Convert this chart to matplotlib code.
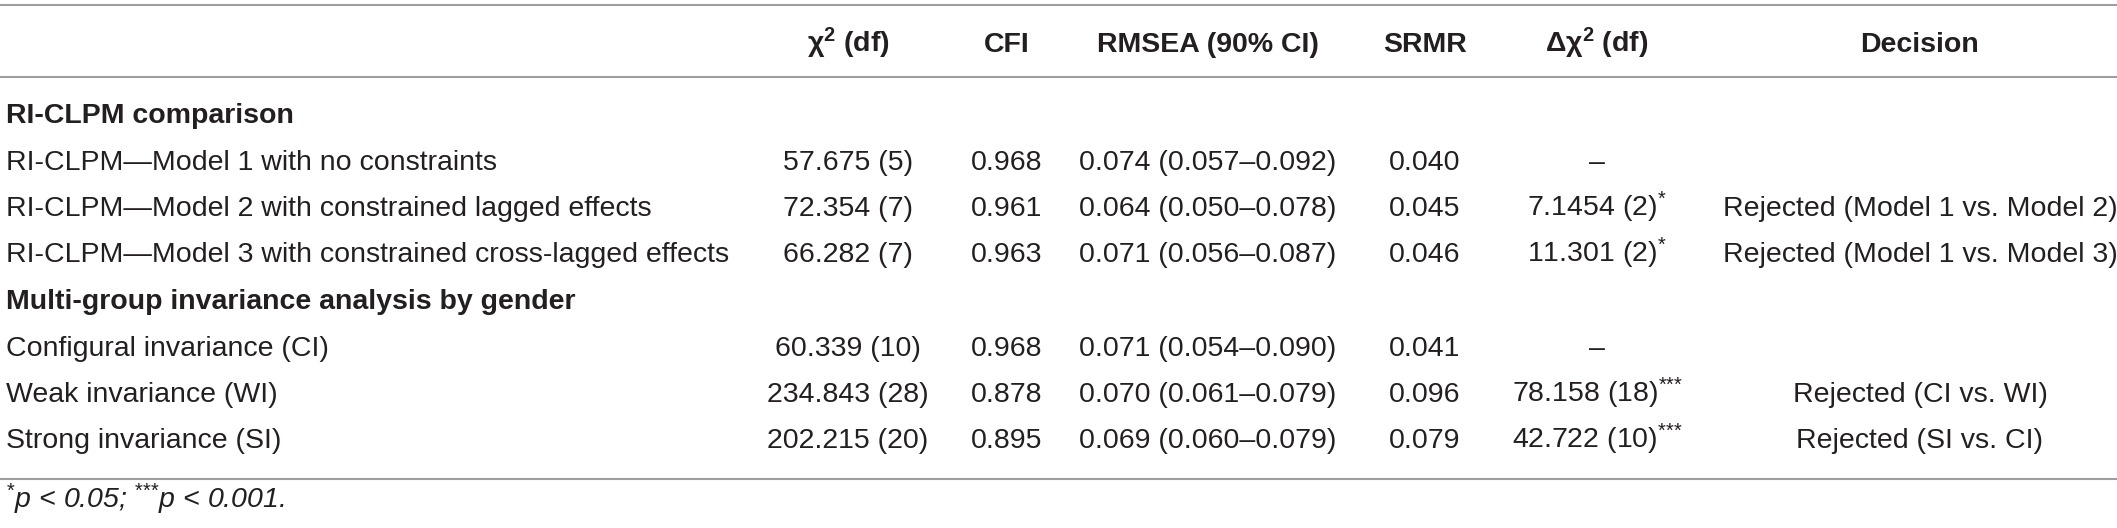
import matplotlib
matplotlib.use("Agg")
import matplotlib.pyplot as plt

plt.rcParams["font.family"] = ["Liberation Sans", "DejaVu Sans"]
plt.rcParams["mathtext.fontset"] = "custom"
plt.rcParams["mathtext.rm"] = "Liberation Sans"
plt.rcParams["mathtext.it"] = "Liberation Sans:italic"
plt.rcParams["mathtext.bf"] = "Liberation Sans:bold"

# table content
headers = ["", "χ$^{\\mathbf{2}}$ (df)", "CFI", "RMSEA (90% CI)", "SRMR",
           "Δχ$^{\\mathbf{2}}$ (df)", "Decision"]

section1 = "RI-CLPM comparison"
labels1 = ["RI-CLPM\u2014Model 1 with no constraints",
           "RI-CLPM\u2014Model 2 with constrained lagged effects",
           "RI-CLPM\u2014Model 3 with constrained cross-lagged effects"]
chi2_1 = ["57.675 (5)", "72.354 (7)", "66.282 (7)"]
cfi_1 = ["0.968", "0.961", "0.963"]
rmsea_1 = ["0.074 (0.057\u20130.092)", "0.064 (0.050\u20130.078)", "0.071 (0.056\u20130.087)"]
srmr_1 = ["0.040", "0.045", "0.046"]
dchi2_1 = ["\u2013", "7.1454 (2)$^{*}$", "11.301 (2)$^{*}$"]
decision_1 = ["", "Rejected (Model 1 vs. Model 2)", "Rejected (Model 1 vs. Model 3)"]

section2 = "Multi-group invariance analysis by gender"
labels2 = ["Configural invariance (CI)", "Weak invariance (WI)", "Strong invariance (SI)"]
chi2_2 = ["60.339 (10)", "234.843 (28)", "202.215 (20)"]
cfi_2 = ["0.968", "0.878", "0.895"]
rmsea_2 = ["0.071 (0.054\u20130.090)", "0.070 (0.061\u20130.079)", "0.069 (0.060\u20130.079)"]
srmr_2 = ["0.041", "0.096", "0.079"]
dchi2_2 = ["\u2013", "78.158 (18)$^{{*}{*}{*}}$", "42.722 (10)$^{{*}{*}{*}}$"]
decision_2 = ["", "Rejected (CI vs. WI)", "Rejected (SI vs. CI)"]

footnote = "$^{*}$p < 0.05; $^{{*}{*}{*}}$p < 0.001."

# layout (pixel units, baselines)
W, H = 2117, 528
col_x = [6, 848, 1007, 1208, 1425, 1597, 1920]
header_y = 52
first_y = 123
step_y = 46.5
rule_y = [5, 77, 479]
foot_y = 508
fs = 20.5
color = "#231f20"

fig = plt.figure(figsize=(W / 100, H / 100), dpi=100)
ax = fig.add_axes([0, 0, 1, 1])
ax.set_xlim(0, W)
ax.set_ylim(H, 0)
ax.axis("off")

for y in rule_y:
    ax.axhline(y, color="#9e9e9e", lw=1.5)

for i, h in enumerate(headers):
    if h:
        ax.text(col_x[i], header_y, h, ha="center", va="baseline",
                fontsize=fs, fontweight="bold", color=color)

sections = [
    (section1, labels1, chi2_1, cfi_1, rmsea_1, srmr_1, dchi2_1, decision_1),
    (section2, labels2, chi2_2, cfi_2, rmsea_2, srmr_2, dchi2_2, decision_2),
]
line = 0
for title, labels, chi2, cfi, rmsea, srmr, dchi2, dec in sections:
    ax.text(col_x[0], first_y + line * step_y, title, ha="left", va="baseline",
            fontsize=fs, fontweight="bold", color=color)
    line += 1
    for r in range(len(labels)):
        y = first_y + line * step_y
        cells = [labels[r], chi2[r], cfi[r], rmsea[r], srmr[r], dchi2[r], dec[r]]
        for c, val in enumerate(cells):
            if not val:
                continue
            ax.text(col_x[c], y, val, ha="left" if c == 0 else "center",
                    va="baseline", fontsize=fs, color=color)
        line += 1

ax.text(col_x[0], foot_y, footnote, ha="left", va="baseline",
        fontsize=fs, style="italic", color=color)

fig.savefig("out.png", dpi=100)
